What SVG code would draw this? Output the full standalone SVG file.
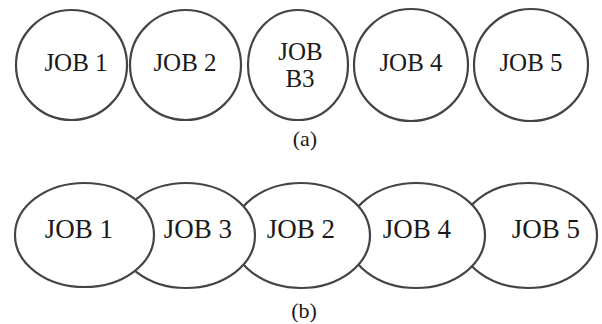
<svg xmlns="http://www.w3.org/2000/svg" width="602" height="324" viewBox="0 0 602 324">
<style>
.n{fill:#fff;stroke:#444;stroke-width:2.2}
.t{font-family:'Liberation Serif','DejaVu Serif',serif;fill:#1a1a1a;text-anchor:middle}
.a{font-size:25px}
.b{font-size:27px}
.c{font-size:22px}
</style>
<rect width="602" height="324" fill="#fff"/>
<g id="part-a">
<g id="a-job1"><ellipse class="n" cx="71.5" cy="65" rx="55.5" ry="55"/><text class="t a" x="76" y="71">JOB 1</text></g>
<g id="a-job2"><ellipse class="n" cx="185.5" cy="65" rx="55.5" ry="55"/><text class="t a" x="185" y="71">JOB 2</text></g>
<g id="a-jobb3"><ellipse class="n" cx="298" cy="65" rx="50" ry="55"/><text class="t a" x="300.5" y="60">JOB</text><text class="t a" x="300" y="87">B3</text></g>
<g id="a-job4"><ellipse class="n" cx="411" cy="65" rx="57" ry="56"/><text class="t a" x="411" y="71">JOB 4</text></g>
<g id="a-job5"><ellipse class="n" cx="531" cy="65" rx="57" ry="56"/><text class="t a" x="531" y="71">JOB 5</text></g>
<text class="t c" x="305" y="146">(a)</text>
</g>
<g id="part-b">
<g id="b-job5"><ellipse class="n" cx="528" cy="235.5" rx="69" ry="52.5"/><text class="t b" x="546" y="238">JOB 5</text></g>
<g id="b-job4"><ellipse class="n" cx="416" cy="235.5" rx="69" ry="52.5"/><text class="t b" x="417" y="238">JOB 4</text></g>
<g id="b-job2"><ellipse class="n" cx="301" cy="235.5" rx="69" ry="52.5"/><text class="t b" x="301" y="238">JOB 2</text></g>
<g id="b-job3"><ellipse class="n" cx="186" cy="235.5" rx="69" ry="52.5"/><text class="t b" x="198" y="238">JOB 3</text></g>
<g id="b-job1"><ellipse class="n" cx="84.5" cy="235" rx="69.5" ry="52"/><text class="t b" x="79" y="238">JOB 1</text></g>
<text class="t c" x="304" y="318">(b)</text>
</g>
<g id="connectors"/>
</svg>
